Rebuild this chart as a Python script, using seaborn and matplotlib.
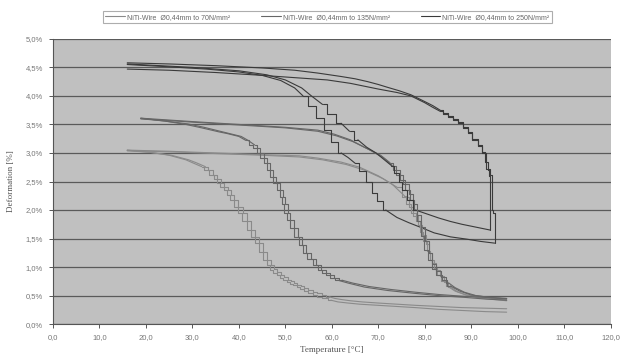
# Deformation of NiTi wires vs temperature (heating / cooling cycles at three loads)

import seaborn as sns
import matplotlib.pyplot as plt
import pandas as pd
from matplotlib.ticker import FuncFormatter

labels = ["NiTi-Wire  Ø0,44mm to 70N/mm²",
          "NiTi-Wire  Ø0,44mm to 135N/mm²",
          "NiTi-Wire  Ø0,44mm to 250N/mm²"]
colors = ["#8a8a8a", "#666666", "#3a3a3a"]

# 70 N/mm² - heating
h70a_t = [16, 25, 35, 45, 53, 57, 62, 66, 70, 73, 75.6, 76.5, 77.5, 78.5, 79.3, 80, 80.8, 81.5, 82.3, 83, 84, 85, 86.5, 88.5, 91, 94, 97.6]
h70a_d = [3.05, 3.03, 3.0, 2.97, 2.95, 2.91, 2.84, 2.75, 2.6, 2.45, 2.25, 2.1, 1.95, 1.8, 1.62, 1.45, 1.28, 1.12, 0.98, 0.86, 0.75, 0.66, 0.58, 0.52, 0.47, 0.44, 0.41]
h70b_t = [16, 25, 35, 45, 53, 58, 63, 67, 71, 74, 76, 77, 78, 79, 79.8, 80.5, 81.3, 82, 82.8, 83.6, 84.5, 85.5, 87, 89, 92, 95, 97.6]
h70b_d = [3.04, 3.02, 2.99, 2.96, 2.93, 2.88, 2.8, 2.7, 2.55, 2.4, 2.22, 2.06, 1.9, 1.74, 1.57, 1.4, 1.24, 1.08, 0.95, 0.84, 0.74, 0.65, 0.57, 0.51, 0.47, 0.44, 0.42]
# 70 N/mm² - cooling
c70a_t = [97.6, 93, 88, 83, 78, 74, 70, 66, 63.5, 61.3, 59.8, 58.5, 57.4, 56.4, 55.4, 54.5, 53.6, 52.8, 52, 51.3, 50.6, 50, 49.2, 48.5, 47.7, 47, 46.3, 45.7, 44.8, 43.9, 43, 42.1, 41.2, 40.3, 39.5, 38.5, 37.8, 37.2, 36.4, 35.7, 34.9, 34.2, 33, 32, 30, 28.6, 25, 21, 16]
c70a_d = [0.21, 0.22, 0.24, 0.26, 0.29, 0.31, 0.33, 0.35, 0.37, 0.39, 0.42, 0.45, 0.48, 0.51, 0.55, 0.58, 0.62, 0.65, 0.68, 0.71, 0.74, 0.77, 0.81, 0.86, 0.9, 0.95, 1.04, 1.12, 1.27, 1.42, 1.53, 1.65, 1.8, 1.95, 2.05, 2.18, 2.26, 2.35, 2.41, 2.47, 2.54, 2.61, 2.7, 2.76, 2.83, 2.88, 2.96, 3.01, 3.05]
c70b_t = [97.6, 93, 88, 83, 78, 74, 70, 66.5, 64, 62.2, 60.7, 59.4, 58.3, 57.3, 56.3, 55.4, 54.5, 53.7, 52.9, 52.2, 51.5, 50.9, 50.1, 49.4, 48.6, 47.9, 47.2, 46.6, 45.7, 44.8, 43.9, 43, 42.1, 41.2, 40.4, 39.4, 38.7, 38, 37.2, 36.5, 35.7, 35, 33.8, 32.8, 30.8, 29.2, 25.5, 21, 16]
c70b_d = [0.27, 0.28, 0.29, 0.31, 0.33, 0.35, 0.37, 0.39, 0.41, 0.43, 0.45, 0.48, 0.51, 0.54, 0.57, 0.6, 0.63, 0.66, 0.69, 0.72, 0.75, 0.78, 0.82, 0.87, 0.91, 0.96, 1.04, 1.12, 1.27, 1.42, 1.53, 1.65, 1.8, 1.95, 2.05, 2.18, 2.26, 2.35, 2.41, 2.47, 2.54, 2.61, 2.7, 2.76, 2.83, 2.88, 2.96, 3.01, 3.04]

# 135 N/mm² - heating
h135a_t = [18.9, 30, 40, 50, 57, 60.5, 64, 67, 70.5, 72.5, 74, 75.2, 76.3, 77.2, 78, 78.8, 79.5, 80.2, 81, 82, 83, 84.2, 85.5, 87.5, 90, 94, 97.6]
h135a_d = [3.61, 3.55, 3.5, 3.45, 3.40, 3.33, 3.23, 3.1, 2.96, 2.83, 2.7, 2.52, 2.35, 2.18, 2.0, 1.8, 1.55, 1.3, 1.12, 0.97, 0.86, 0.77, 0.67, 0.58, 0.51, 0.47, 0.44]
h135b_t = [18.9, 30, 40, 50, 57, 61, 64.5, 68, 71, 73, 74.8, 76, 77, 78, 78.8, 79.6, 80.4, 81.2, 82, 83, 84, 85, 86.5, 88.5, 91, 94.5, 97.6]
h135b_d = [3.60, 3.54, 3.49, 3.44, 3.38, 3.3, 3.2, 3.06, 2.92, 2.78, 2.62, 2.45, 2.28, 2.1, 1.92, 1.7, 1.46, 1.24, 1.06, 0.93, 0.82, 0.73, 0.64, 0.56, 0.5, 0.46, 0.45]
# 135 N/mm² - cooling
c135a_t = [97.6, 93, 88.5, 83, 77.8, 72, 67, 63.5, 61.3, 60.2, 59.2, 58.3, 57.5, 56.4, 55.3, 54.2, 53.3, 52.4, 51.5, 50.6, 50, 49.6, 49, 48.5, 47.7, 47, 46.3, 45.7, 45, 44.2, 43.5, 42.8, 41.5, 40, 37.5, 35.7, 32, 28.6, 24, 18.9]
c135a_d = [0.42, 0.44, 0.47, 0.5, 0.54, 0.59, 0.65, 0.72, 0.77, 0.81, 0.86, 0.9, 0.95, 1.04, 1.14, 1.24, 1.38, 1.53, 1.68, 1.82, 1.95, 2.1, 2.23, 2.35, 2.47, 2.58, 2.7, 2.82, 2.92, 3.0, 3.08, 3.14, 3.22, 3.29, 3.34, 3.37, 3.44, 3.5, 3.56, 3.61]
c135b_t = [97.6, 93, 88, 83, 78, 72.5, 68, 64.5, 62.2, 61, 60, 59.1, 58.3, 57.2, 56.1, 55, 54.1, 53.2, 52.3, 51.4, 50.8, 50.3, 49.7, 49.1, 48.4, 47.7, 47, 46.4, 45.7, 45, 44.2, 43.4, 42, 40.5, 38, 36, 32.5, 29, 24, 18.9]
c135b_d = [0.45, 0.47, 0.49, 0.52, 0.56, 0.61, 0.66, 0.72, 0.77, 0.81, 0.86, 0.9, 0.95, 1.04, 1.14, 1.24, 1.38, 1.53, 1.68, 1.82, 1.95, 2.1, 2.23, 2.35, 2.47, 2.58, 2.7, 2.82, 2.92, 3.0, 3.08, 3.14, 3.22, 3.29, 3.34, 3.38, 3.45, 3.51, 3.56, 3.60]

# 250 N/mm² - heating
h250a_t = [16, 25, 35, 45, 52, 57, 62, 65, 67.7, 70, 72, 74.5, 77, 78.5, 80, 81.7, 83.3, 84.4, 85.5, 86.6, 87.6, 88.7, 89.7, 90.8, 91.9, 92.7, 93.3, 93.8, 94, 94]
h250a_d = [4.58, 4.56, 4.53, 4.49, 4.45, 4.40, 4.34, 4.3, 4.25, 4.2, 4.15, 4.09, 4.02, 3.96, 3.9, 3.83, 3.75, 3.7, 3.65, 3.6, 3.55, 3.46, 3.37, 3.25, 3.14, 3.02, 2.85, 2.7, 2.6, 1.65]
h250b_t = [16, 25, 35, 45, 52, 59, 64, 67, 70, 72, 74, 77, 78.5, 80, 81.7, 83.3, 84.4, 85.5, 86.6, 87.6, 88.7, 89.7, 90.8, 91.9, 92.7, 93.5, 94.5, 94.5, 95, 95]
h250b_d = [4.47, 4.45, 4.41, 4.36, 4.32, 4.28, 4.22, 4.17, 4.12, 4.09, 4.06, 4.0, 3.94, 3.88, 3.8, 3.73, 3.68, 3.63, 3.58, 3.52, 3.44, 3.35, 3.23, 3.12, 3.0, 2.72, 2.62, 2.0, 1.95, 1.42]
# 250 N/mm² - cooling
c250a_t = [94, 91, 88, 85.5, 83, 80.5, 78, 76.8, 75.6, 74.7, 74, 72.8, 71.3, 69.5, 67.5, 65.6, 63.8, 62, 60, 58, 55.6, 53.5, 50, 46, 40, 30, 16]
c250a_d = [1.65, 1.7, 1.75, 1.8, 1.86, 1.93, 2.0, 2.18, 2.35, 2.5, 2.65, 2.78, 2.88, 3.0, 3.1, 3.23, 3.38, 3.52, 3.68, 3.85, 4.0, 4.14, 4.28, 4.37, 4.44, 4.5, 4.56]
c250b_t = [95, 92, 89, 85.5, 82, 79, 76.5, 74, 71.6, 70.3, 69.2, 68, 66.5, 65, 63.5, 62, 60.5, 59, 57.5, 55.8, 53.8, 52, 49, 45, 40, 33, 25, 16]
c250b_d = [1.42, 1.45, 1.49, 1.53, 1.6, 1.7, 1.78, 1.87, 2.0, 2.15, 2.3, 2.5, 2.68, 2.82, 2.92, 3.0, 3.2, 3.4, 3.62, 3.82, 4.0, 4.14, 4.27, 4.36, 4.42, 4.47, 4.51, 4.55]

curves = [
    (labels[0], "70 heat 1", h70a_t, h70a_d),
    (labels[0], "70 heat 2", h70b_t, h70b_d),
    (labels[0], "70 cool 1", c70a_t, c70a_d),
    (labels[0], "70 cool 2", c70b_t, c70b_d),
    (labels[1], "135 heat 1", h135a_t, h135a_d),
    (labels[1], "135 heat 2", h135b_t, h135b_d),
    (labels[1], "135 cool 1", c135a_t, c135a_d),
    (labels[1], "135 cool 2", c135b_t, c135b_d),
    (labels[2], "250 heat 1", h250a_t, h250a_d),
    (labels[2], "250 heat 2", h250b_t, h250b_d),
    (labels[2], "250 cool 1", c250a_t, c250a_d),
    (labels[2], "250 cool 2", c250b_t, c250b_d),
]
df = pd.concat([pd.DataFrame({"temp": t, "defo": d, "wire": w, "curve": c})
                for w, c, t, d in curves], ignore_index=True)


# split every curve into smooth runs and steep runs (the steep ones are drawn as stairs,
# like the temperature-quantised logger data in the original)
def split(frame):
    smooth, steps = [], []
    for cid, g in frame.groupby("curve", sort=False):
        g = g.reset_index(drop=True)
        dt = g["temp"].diff().abs()
        dd = g["defo"].diff().abs()
        steep = ((dt <= 1.3) | (dd > 0.08 * dt)).tolist()[1:]
        start = 0
        for i in range(1, len(steep) + 1):
            if i == len(steep) or steep[i] != steep[start]:
                seg = g.iloc[start:i + 1].copy()
                seg["curve"] = f"{cid}-{start}"
                (steps if steep[start] else smooth).append(seg)
                start = i
    return pd.concat(smooth, ignore_index=True), pd.concat(steps, ignore_index=True)


df_smooth, df_steps = split(df)

sns.set_style("white")
plt.rcParams["font.family"] = ["Liberation Sans", "DejaVu Sans"]

fig, ax = plt.subplots(figsize=(6.22, 3.63), dpi=100)
fig.subplots_adjust(left=0.085, right=0.982, top=0.893, bottom=0.107)
ax.set_facecolor("#c0c0c0")

sns.lineplot(data=df_smooth, x="temp", y="defo", hue="wire", hue_order=labels,
             units="curve", estimator=None, sort=False, palette=colors,
             linewidth=0.8, ax=ax)
sns.lineplot(data=df_steps, x="temp", y="defo", hue="wire", hue_order=labels,
             units="curve", estimator=None, sort=False, palette=colors,
             linewidth=0.8, drawstyle="steps-mid", legend=False, ax=ax)

ax.set_xlim(0, 120)
ax.set_ylim(0, 5)
ax.set_xticks(range(0, 121, 10))
ax.set_yticks([i * 0.5 for i in range(11)])
ax.xaxis.set_major_formatter(FuncFormatter(lambda v, p: f"{v:.1f}".replace(".", ",")))
ax.yaxis.set_major_formatter(FuncFormatter(lambda v, p: f"{v:.1f}%".replace(".", ",")))
ax.yaxis.grid(True, color="#5a5a5a", linewidth=0.9)
ax.set_axisbelow(True)
ax.tick_params(bottom=True, left=True, length=3, width=0.7, color="#555555",
               labelsize=5.5, labelcolor="#777777", pad=4)
for side in ["top", "right"]:
    ax.spines[side].set_visible(False)
for side in ["left", "bottom"]:
    ax.spines[side].set_color("#555555")
    ax.spines[side].set_linewidth(0.8)

ax.set_xlabel("Temperature [°C]", family=["Liberation Serif"], fontsize=6.5,
              color="#555555", labelpad=4)
ax.set_ylabel("Deformation [%]", family=["Liberation Serif"], fontsize=6.5,
              color="#555555", labelpad=8)

handles, lbls = ax.get_legend_handles_labels()
ax.get_legend().remove()
leg = fig.legend(handles, lbls, loc="lower left",
                 bbox_to_anchor=(103 / 622, 1 - 23 / 363, 449 / 622, 15 / 363),
                 mode="expand", ncol=3, fontsize=5, frameon=True, fancybox=False,
                 edgecolor="#999999", handlelength=2.8, handletextpad=0.3,
                 borderaxespad=0, borderpad=0.35)
leg.get_frame().set_linewidth(0.8)
for txt in leg.get_texts():
    txt.set_color("#666666")

fig.savefig("out.png", dpi=100)
